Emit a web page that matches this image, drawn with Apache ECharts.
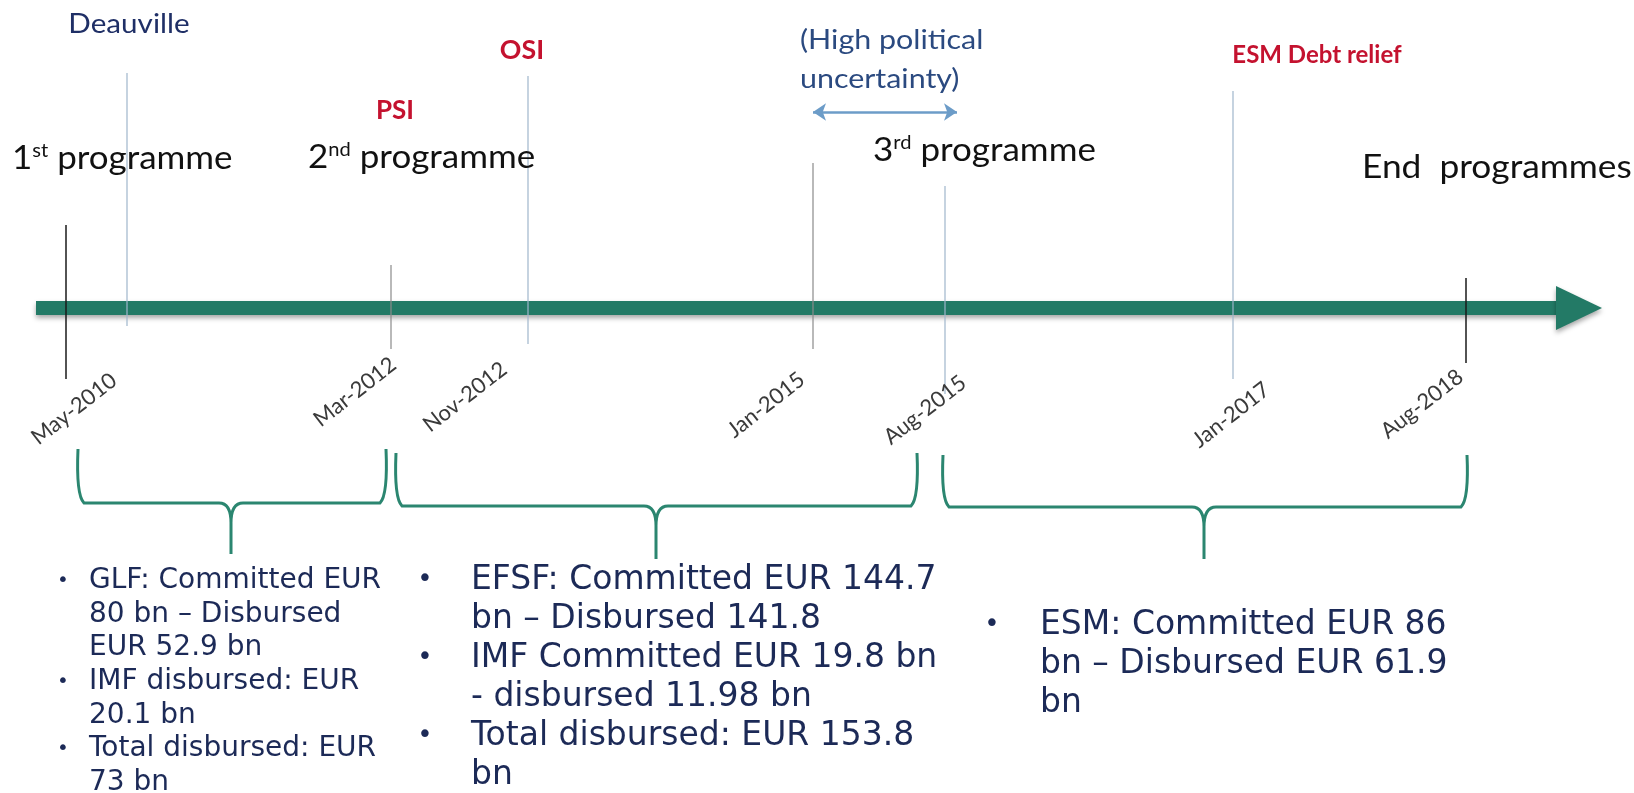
<!DOCTYPE html>
<html>
<head>
<meta charset="utf-8">
<script src="https://cdn.jsdelivr.net/npm/echarts@6/dist/echarts.min.js"></script>
<style>
html,body{margin:0;padding:0;background:#fff;}
#chart_timeline{width:1634px;height:793px;}
</style>
</head>
<body>
<div id="chart_timeline"></div>
<script>
// 时间轴刻度（日期）及其在轴上的位置
var date_labels = ['May-2010','Mar-2012','Nov-2012','Jan-2015','Aug-2015','Jan-2017','Aug-2018'];
var date_pos = [66, 391, 528, 813, 945, 1233, 1466];

// 竖线标记（含 Deauville）
var marker_pos = [66, 127, 391, 528, 813, 945, 1233, 1466];

// 上方事件文字
var event_texts = ['Deauville', 'OSI', 'PSI', '(High political', 'uncertainty)', 'ESM Debt relief'];

// 各阶段名称
var prog_num = ['1', '2', '3', ''];
var prog_sup = ['st', 'nd', 'rd', ''];
var prog_text = [' programme', ' programme', ' programme', 'End  programmes'];

// 各阶段的资金说明
var notes_1 = [['GLF: Committed EUR', '80 bn \u2013 Disbursed', 'EUR 52.9 bn'], ['IMF disbursed: EUR', '20.1 bn'], ['Total disbursed: EUR', '73 bn']];
var notes_2 = [['EFSF: Committed EUR 144.7', 'bn \u2013 Disbursed 141.8'], ['IMF Committed EUR 19.8 bn', '- disbursed 11.98 bn'], ['Total disbursed: EUR 153.8', 'bn']];
var notes_3 = [['ESM: Committed EUR 86', 'bn \u2013 Disbursed EUR 61.9', 'bn']];

// ---- 以下为布局与样式 ----
var GREEN = '#237a66';
var NAVY = '#1c2a57';
var RED = '#c4122f';

var marker_top = [225, 73, 265, 76, 163, 186, 91, 278];
var marker_bottom = [379, 326, 349, 344, 349, 394, 379, 363];
var marker_color = ['#1a1a1a', '#9fb6cc', '#8a8a8a', '#9fb6cc', '#8a8a8a', '#9fb6cc', '#9fb6cc', '#1a1a1a'];
var date_label_xy = [[74, 409], [355, 392], [465, 397], [766, 405], [925, 410], [1231, 415], [1422, 404]];

var event_xy = [[129, 25], [522, 51], [395, 111], [800, 41], [800, 80], [1317, 55]];
var event_align = ['center', 'center', 'center', 'left', 'left', 'center'];
var event_color = ['#1f2f66', RED, RED, '#2b4a80', '#2b4a80', RED];
var event_weight = ['normal', 'bold', 'bold', 'normal', 'normal', 'bold'];
var event_size = [26, 26, 26, 26, 26, 24];
var event_stretch = [1.14, 1.03, 1, 1.17, 1.17, 1];

var prog_xy = [[12, 158], [308, 157], [873, 150], [1362, 167]];
var prog_stretch = [1.06, 1.06, 1.06, 1.07];

var brace_x = [[78, 386, 231], [396, 917, 656], [943, 1467, 1204]];
var brace_top = [449, 453, 455];
var brace_mid = [503, 506, 507];
var brace_bottom = [554, 559, 559];

var note_blocks = [
    {notes: notes_1, bx: 63, tx: 89, y: 581, lh: 33.6, size: 28, bsize: 20},
    {notes: notes_2, bx: 425, tx: 471, y: 580, lh: 39, size: 33, bsize: 26},
    {notes: notes_3, bx: 992, tx: 1040, y: 625, lh: 39, size: 33, bsize: 26}
];

var myChart = echarts.init(document.getElementById('chart_timeline'));

function idx(n){
    var a = [];
    for(var i=0;i<n;i++){ a.push(i); }
    return a;
}

// 主时间轴箭头
function renderTimeline(params, api){
    var p0 = api.coord([36, 308]);
    var p1 = api.coord([1556, 308]);
    var p2 = api.coord([1602, 308]);
    var shadow = {shadowBlur: 5, shadowOffsetY: 3, shadowColor: 'rgba(0,0,0,0.35)'};
    return {
        type: 'group',
        children: [
            {type: 'rect', shape: {x: p0[0], y: p0[1]-7, width: p1[0]-p0[0]+1, height: 14},
                style: Object.assign({fill: GREEN}, shadow)},
            {type: 'polygon', shape: {points: [[p1[0], p1[1]-22], [p2[0], p2[1]], [p1[0], p1[1]+22]]},
                style: Object.assign({fill: GREEN}, shadow)}
        ]
    };
}

function renderMarker(params, api){
    var i = params.dataIndex;
    var a = api.coord([marker_pos[i], marker_top[i]]);
    var b = api.coord([marker_pos[i], marker_bottom[i]]);
    return {type: 'line', shape: {x1: a[0], y1: a[1], x2: b[0], y2: b[1]},
        style: {stroke: marker_color[i], lineWidth: marker_color[i] == '#1a1a1a' ? 1.5 : 1.2}};
}

function renderDate(params, api){
    var i = params.dataIndex;
    var p = api.coord(date_label_xy[i]);
    return {type: 'text', x: p[0], y: p[1], rotation: 38 * Math.PI / 180,
        style: {text: date_labels[i], fill: '#3a3a3a', fontSize: 22, fontFamily: 'Lato',
            align: 'center', verticalAlign: 'middle'}};
}

function renderEvent(params, api){
    var i = params.dataIndex;
    var p = api.coord(event_xy[i]);
    return {type: 'text', x: p[0], y: p[1], scaleX: event_stretch[i],
        style: {text: event_texts[i], fill: event_color[i], fontSize: event_size[i], fontWeight: event_weight[i],
            fontFamily: 'Lato', align: event_align[i], verticalAlign: 'middle'}};
}

function renderProg(params, api){
    var i = params.dataIndex;
    var p = api.coord(prog_xy[i]);
    var txt = prog_num[i] ? '{n|' + prog_num[i] + '}{s|' + prog_sup[i] + '}{n|' + prog_text[i] + '}' : '{n|' + prog_text[i] + '}';
    return {type: 'text', x: p[0], y: p[1], scaleX: prog_stretch[i],
        style: {text: txt, fill: '#111', fontFamily: 'Lato', fontSize: 33, align: 'left', verticalAlign: 'middle',
            rich: {
                n: {fontSize: 33, fontFamily: 'Lato', fill: '#111'},
                s: {fontSize: 19, fontFamily: 'Lato', fill: '#111', verticalAlign: 'top', padding: [0, 0, 14, 0]}
            }}};
}

// 花括号
function renderBrace(params, api){
    var i = params.dataIndex;
    var x0 = api.coord([brace_x[i][0], brace_top[i]]);
    var x1 = api.coord([brace_x[i][1], brace_top[i]]);
    var c = api.coord([brace_x[i][2], brace_mid[i]]);
    var bot = api.coord([brace_x[i][2], brace_bottom[i]]);
    var ym = c[1], r = 12;
    var d = 'M' + x0[0] + ' ' + x0[1] +
        ' Q' + (x0[0]-2) + ' ' + (ym-8) + ' ' + (x0[0]+6) + ' ' + ym +
        ' L' + (c[0]-r) + ' ' + ym +
        ' Q' + c[0] + ' ' + ym + ' ' + c[0] + ' ' + (ym+r+8) +
        ' L' + bot[0] + ' ' + bot[1] +
        ' M' + x1[0] + ' ' + x1[1] +
        ' Q' + (x1[0]+2) + ' ' + (ym-8) + ' ' + (x1[0]-6) + ' ' + ym +
        ' L' + (c[0]+r) + ' ' + ym +
        ' Q' + c[0] + ' ' + ym + ' ' + c[0] + ' ' + (ym+r+8);
    return {type: 'path', shape: {pathData: d}, style: {stroke: '#2b8670', lineWidth: 3, fill: null}};
}

// 资金说明文字
function renderNotes(params, api){
    var blk = note_blocks[params.dataIndex];
    var children = [];
    var line = 0;
    for(var k=0;k<blk.notes.length;k++){
        var item = blk.notes[k];
        var pb = api.coord([blk.bx, blk.y + line*blk.lh]);
        children.push({type: 'text', x: pb[0], y: pb[1],
            style: {text: '\u2022', fill: NAVY, fontSize: blk.bsize, fontFamily: 'DejaVu Sans', align: 'center', verticalAlign: 'middle'}});
        for(var j=0;j<item.length;j++){
            var pt = api.coord([blk.tx, blk.y + line*blk.lh]);
            children.push({type: 'text', x: pt[0], y: pt[1],
                style: {text: item[j], fill: NAVY, fontSize: blk.size, fontFamily: 'DejaVu Sans', align: 'left', verticalAlign: 'middle'}});
            line++;
        }
    }
    return {type: 'group', children: children};
}

var option = {
    animation: false,
    grid: {left: 0, right: 0, top: 0, bottom: 0},
    xAxis: {type: 'value', min: 0, max: 1634, show: false},
    yAxis: {type: 'value', min: 0, max: 793, inverse: true, show: false},
    series: [
        {type: 'custom', name: 'timeline', renderItem: renderTimeline, data: [0], z: 1},
        {type: 'custom', name: 'markers', renderItem: renderMarker, data: idx(marker_pos.length), z: 2},
        {type: 'custom', name: 'dates', renderItem: renderDate, data: idx(date_labels.length), z: 3},
        {type: 'custom', name: 'events', renderItem: renderEvent, data: idx(event_texts.length), z: 3},
        {type: 'custom', name: 'programmes', renderItem: renderProg, data: idx(prog_text.length), z: 3},
        {type: 'custom', name: 'braces', renderItem: renderBrace, data: idx(brace_x.length), z: 3},
        {type: 'custom', name: 'notes', renderItem: renderNotes, data: idx(note_blocks.length), z: 3},
        {
            type: 'lines', name: 'uncertainty', coordinateSystem: 'cartesian2d', z: 3,
            symbol: ['arrow', 'arrow'], symbolSize: 13,
            lineStyle: {color: '#6c9cc8', width: 2.5, opacity: 1},
            data: [{coords: [[813, 112], [957, 112]]}]
        }
    ]
};
myChart.setOption(option);
</script>
</body>
</html>
